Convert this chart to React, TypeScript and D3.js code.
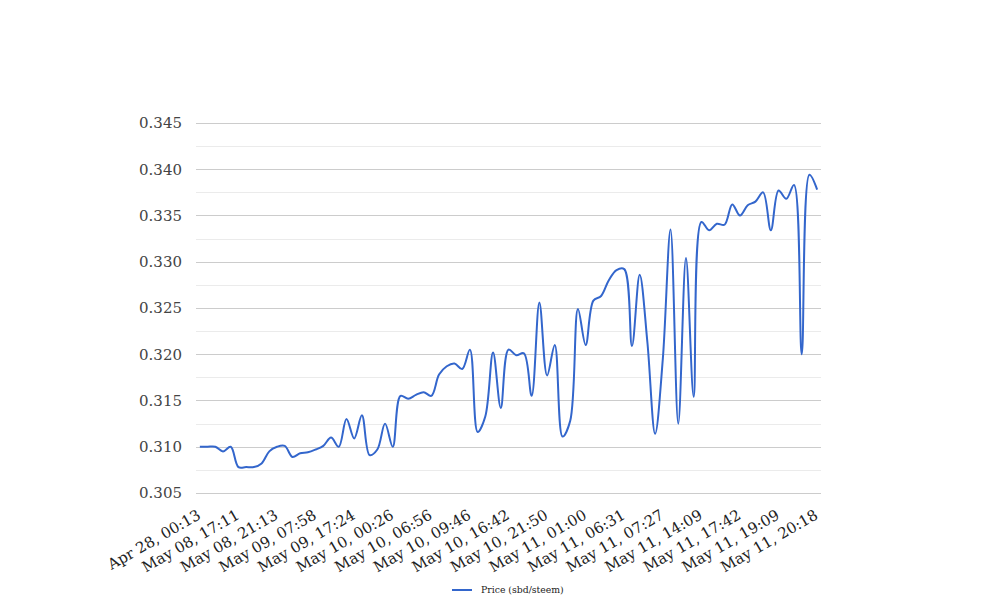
import React, { useEffect, useRef } from 'react';
import * as d3 from 'd3';

const tickLabels = [
  'Apr 28, 00:13', 'May 08, 17:11', 'May 08, 21:13', 'May 09, 07:58', 'May 09, 17:24',
  'May 10, 00:26', 'May 10, 06:56', 'May 10, 09:46', 'May 10, 16:42', 'May 10, 21:50',
  'May 11, 01:00', 'May 11, 06:31', 'May 11, 07:27', 'May 11, 14:09', 'May 11, 17:42',
  'May 11, 19:09', 'May 11, 20:18',
];
const labelEvery = 5;

const prices = [
  0.3100, 0.3100, 0.3100, 0.3095, 0.3100, 0.3078, 0.3078, 0.3078, 0.3082, 0.3095,
  0.3100, 0.3101, 0.3089, 0.3093, 0.3094, 0.3097, 0.3101, 0.3110, 0.3100, 0.3130,
  0.3109, 0.3134, 0.3091, 0.3097, 0.3125, 0.3100, 0.3155, 0.3152, 0.3156, 0.3159,
  0.3155, 0.3178, 0.3187, 0.3190, 0.3184, 0.3205, 0.3116, 0.3133, 0.3202, 0.3142,
  0.3205, 0.3199, 0.3201, 0.3155, 0.3256, 0.3177, 0.3210, 0.3111, 0.3128, 0.3249,
  0.3210, 0.3258, 0.3263, 0.3280, 0.3291, 0.3292, 0.3209, 0.3286, 0.3213, 0.3114,
  0.3195, 0.3335, 0.3125, 0.3304, 0.3154, 0.3343, 0.3334, 0.3341, 0.3340, 0.3362,
  0.3350, 0.3361, 0.3365, 0.3375, 0.3334, 0.3377, 0.3368, 0.3383, 0.3200, 0.3394,
  0.3378,
];

const yMajorTicks = [0.305, 0.31, 0.315, 0.32, 0.325, 0.33, 0.335, 0.34, 0.345];
const yMinorTicks = [0.3075, 0.3125, 0.3175, 0.3225, 0.3275, 0.3325, 0.3375, 0.3425];
const seriesName = 'Price (sbd/steem)';

const FONT = "'DejaVu Serif', serif";

export default function App() {
  const ref = useRef<SVGSVGElement>(null);

  useEffect(() => {
    const svg = d3.select(ref.current);
    svg.selectAll('*').remove();

    const left = 196, right = 821, top = 123, bottom = 493;
    const x = d3.scaleBand<number>().domain(d3.range(prices.length)).range([left, right]);
    const cx = (i: number) => (x(i) as number) + x.bandwidth() / 2;
    const y = d3.scaleLinear().domain([0.305, 0.345]).range([bottom, top]);

    svg.append('rect').attr('width', 1008).attr('height', 616).attr('fill', '#fff');

    svg.append('g').selectAll('line').data(yMinorTicks).join('line')
      .attr('x1', left).attr('x2', right)
      .attr('y1', d => Math.round(y(d)) + 0.5).attr('y2', d => Math.round(y(d)) + 0.5)
      .attr('stroke', '#ebebeb').attr('stroke-width', 1);

    svg.append('g').selectAll('line').data(yMajorTicks).join('line')
      .attr('x1', left).attr('x2', right)
      .attr('y1', d => Math.round(y(d)) + 0.5).attr('y2', d => Math.round(y(d)) + 0.5)
      .attr('stroke', '#cccccc').attr('stroke-width', 1);

    svg.append('g').selectAll('text').data(yMajorTicks).join('text')
      .attr('x', 182).attr('y', d => y(d)).attr('dy', '0.35em')
      .attr('text-anchor', 'end')
      .attr('font-family', FONT).attr('font-size', 15).attr('fill', '#444')
      .text(d => d3.format('.3f')(d));

    svg.append('g').selectAll('text').data(tickLabels).join('text')
      .attr('transform', (d, k) => `translate(${cx(k * labelEvery) + 2},${518}) rotate(-30)`)
      .attr('text-anchor', 'end')
      .attr('font-family', FONT).attr('font-size', 15).attr('fill', '#222')
      .text(d => d);

    const line = d3.line<number>()
      .x((d, i) => cx(i))
      .y(d => y(d))
      .curve(d3.curveCatmullRom.alpha(0.5));

    svg.append('path').datum(prices)
      .attr('d', line)
      .attr('fill', 'none')
      .attr('stroke', '#3366cc')
      .attr('stroke-width', 2);

    const lg = svg.append('g');
    lg.append('line').attr('x1', 452).attr('x2', 472).attr('y1', 590).attr('y2', 590)
      .attr('stroke', '#3366cc').attr('stroke-width', 2);
    lg.append('text').attr('x', 481).attr('y', 590).attr('dy', '0.35em')
      .attr('font-family', FONT).attr('font-size', 9.3).attr('fill', '#222')
      .text(seriesName);
  }, []);

  return (
    <svg ref={ref} width={1008} height={616}
      style={{ position: 'absolute', left: 0, top: 0, display: 'block' }} />
  );
}
